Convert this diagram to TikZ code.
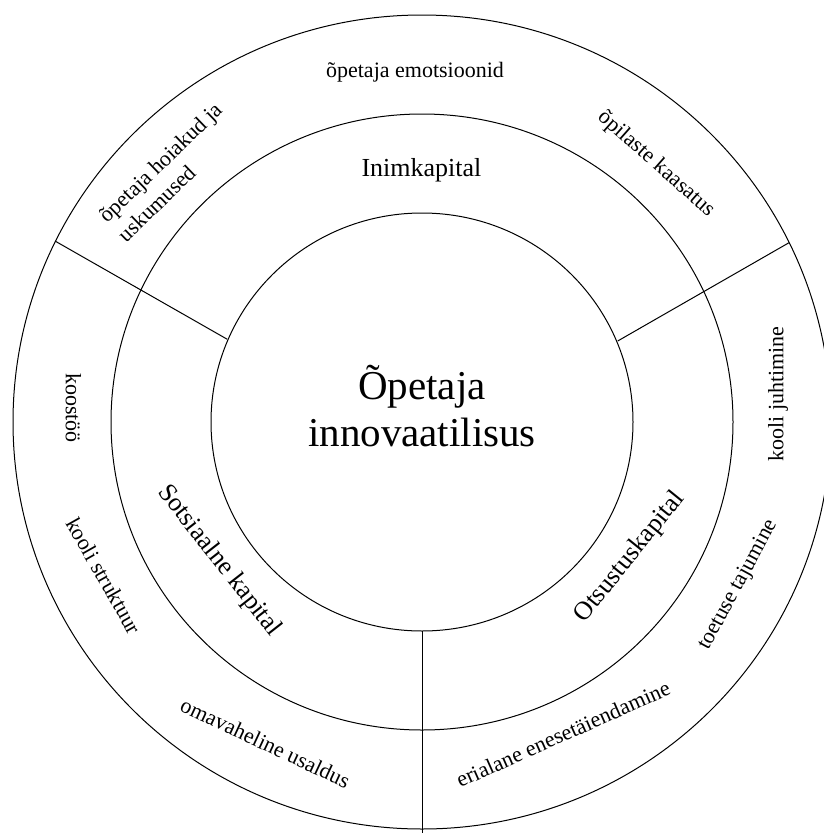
\documentclass[tikz,border=0pt]{standalone}
\usepackage{fontspec}
\setmainfont{Liberation Serif}
\begin{document}
\begin{tikzpicture}[x=1pt,y=-1pt,
  ring/.style={line width=1pt},
  divider/.style={line width=1pt},
  core/.style={inner sep=0pt, align=center, font=\fontsize{41}{47}\selectfont},
  capital/.style={inner sep=0pt, font=\fontsize{26}{30}\selectfont},
  factor/.style={inner sep=0pt, font=\fontsize{22}{27}\selectfont},
]
\useasboundingbox (0,0) rectangle (823,833);

% three concentric rings
\coordinate (c) at (422,422);
\draw[ring] (c) ellipse [x radius=211, y radius=209];
\draw[ring] (c) ellipse [x radius=311, y radius=308];
\draw[ring] (c) ellipse [x radius=409, y radius=407];

% sector dividers between the rings
\coordinate (lo) at (55,241);
\coordinate (li) at (227.3,339.3);
\coordinate (ro) at (789,242.7);
\coordinate (ri) at (617.7,341);
\coordinate (bi) at (422,631);
\coordinate (bo) at (422,833);
\draw[divider] (lo) -- (li);
\draw[divider] (ro) -- (ri);
\draw[divider] (bi) -- (bo);

% centre
\node[core] (centre) at (422,406) {Õpetaja\\innovaatilisus};

% capitals (middle ring)
\node[capital, anchor=base] (inim) at (421.5,176) {Inimkapital};
\node[capital, rotate=-52] (sots) at (219,561) {Sotsiaalne kapital};
\node[capital, rotate=51] (otsus) at (630,557) {Otsustuskapital};

% factors (outer ring)
\node[factor, anchor=base] (emo) at (415,77) {õpetaja emotsioonid};
\node[factor, rotate=44, align=left] (hoiak) at (170,172) {õpetaja hoiakud ja\\uskumused};
\node[factor, rotate=-41.5] (kaasat) at (656,164) {õpilaste kaasatus};
\node[factor, rotate=-90] (koost) at (73.5,408) {koostöö};
\node[factor, rotate=-60.5] (strukt) at (104,576) {kooli struktuur};
\node[factor, rotate=-25] (usald) at (265.5,743) {omavaheline usaldus};
\node[factor, rotate=90] (juht) at (778,394) {kooli juhtimine};
\node[factor, rotate=61.5] (toetus) at (738.5,585) {toetuse tajumine};
\node[factor, rotate=24] (erial) at (563,734) {erialane enesetäiendamine};
\end{tikzpicture}
\end{document}
